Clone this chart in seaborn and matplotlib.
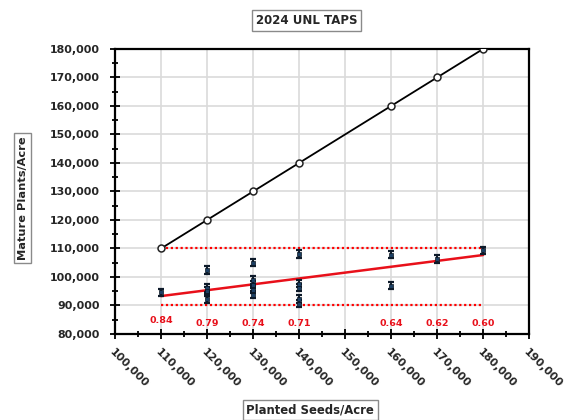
import numpy as np
import pandas as pd
import matplotlib
matplotlib.use("Agg")
import matplotlib.pyplot as plt
import seaborn as sns
from matplotlib.ticker import FuncFormatter, MultipleLocator

# ---------------- data ----------------
title = "2024 UNL TAPS"
x_label = "Planted Seeds/Acre"
y_label = "Mature Plants/Acre"

# 1:1 reference line (planted = mature)
ref_x = [110000, 120000, 130000, 140000, 160000, 170000, 180000]
ref_y = [110000, 120000, 130000, 140000, 160000, 170000, 180000]

# observed stands
obs_x = [110000,
         120000, 120000, 120000, 120000,
         130000, 130000, 130000, 130000, 130000,
         140000, 140000, 140000, 140000, 140000,
         160000, 160000,
         170000,
         180000]
obs_y = [94600,
         102400, 96100, 95200, 92200,
         105000, 98900, 97300, 95600, 93800,
         108100, 97700, 96300, 92300, 90600,
         107800, 97000,
         106300,
         109300]
obs_err = 1300

# trend line of observed stands
trend_x = [110000, 180000]
trend_y = [93300, 107700]

# dotted band limits
band_x = [110000, 180000]
band_low = [90000, 90000]
band_high = [110000, 110000]

# survival ratio labels
ratio_x = [110000, 120000, 130000, 140000, 160000, 170000, 180000]
ratio_y = [84800, 83700, 83700, 83700, 83700, 83700, 83700]
ratio_text = ["0.84", "0.79", "0.74", "0.71", "0.64", "0.62", "0.60"]

x_ticks = list(range(100000, 190001, 10000))
y_ticks = list(range(80000, 180001, 10000))

# ---------------- plot ----------------
sns.set_theme(style="white")
plt.rcParams["font.family"] = ["DejaVu Sans"]
plt.rcParams["font.weight"] = "bold"

fig = plt.figure(figsize=(5.68, 4.2), dpi=100)
ax = fig.add_axes([0.2025, 0.2048, 0.729, 0.6786])

ax.set_xlim(100000, 190000)
ax.set_ylim(80000, 180000)
ax.set_xticks(x_ticks)
ax.set_yticks(y_ticks)
ax.xaxis.set_minor_locator(MultipleLocator(5000))
ax.yaxis.set_minor_locator(MultipleLocator(5000))
ax.grid(True, which="major", color="#dadada", linewidth=1.2, zorder=0)
ax.set_axisbelow(True)

# 1:1 line
ref_df = pd.DataFrame({"x": ref_x, "y": ref_y})
sns.lineplot(data=ref_df, x="x", y="y", ax=ax, color="black", linewidth=1.3,
             marker="o", markersize=5, markerfacecolor="white",
             markeredgecolor="#222222", markeredgewidth=1.1, zorder=4)

# dotted band
ax.plot(band_x, band_low, color="red", linestyle=(0, (1, 1.2)), linewidth=1.6, zorder=3)
ax.plot(band_x, band_high, color="red", linestyle=(0, (1, 1.2)), linewidth=1.6, zorder=3)

# trend line
trend_df = pd.DataFrame({"x": trend_x, "y": trend_y})
sns.lineplot(data=trend_df, x="x", y="y", ax=ax, color="#e8101a", linewidth=1.8, zorder=3)

# observed points with error bars
obs_df = pd.DataFrame({"x": obs_x, "y": obs_y})
ax.errorbar(obs_df["x"], obs_df["y"], yerr=obs_err, fmt="none", ecolor="#0d1a2a",
            elinewidth=1.4, capsize=2.2, capthick=1.6, zorder=5)
sns.scatterplot(data=obs_df, x="x", y="y", ax=ax, color="#1c3f63", marker="s",
                s=7, edgecolor="#0a1520", linewidth=0.5, zorder=6)

# ratio labels
for xv, yv, t in zip(ratio_x, ratio_y, ratio_text):
    ax.text(xv, yv, t, color="#e8101a", fontsize=6.8, fontweight="bold",
            ha="center", va="center", zorder=7)

# axes styling
for sp in ax.spines.values():
    sp.set_visible(True)
    sp.set_color("black")
    sp.set_linewidth(1.6)

ax.tick_params(axis="both", which="both", direction="inout", color="black",
               width=1.3, bottom=True, left=True, top=False, right=False)
ax.tick_params(axis="both", which="major", length=6.5)
ax.tick_params(axis="both", which="minor", length=5)
ax.tick_params(axis="y", which="major", pad=7.5, labelsize=7.9)
ax.tick_params(axis="x", which="major", pad=6, labelsize=7.9)

fmt = FuncFormatter(lambda v, p: f"{int(v):,}")
ax.xaxis.set_major_formatter(fmt)
ax.yaxis.set_major_formatter(fmt)
for lab in ax.get_yticklabels():
    lab.set_fontweight("bold")
for lab in ax.get_xticklabels():
    lab.set_fontweight("bold")
    lab.set_rotation(-45)
    lab.set_ha("left")
    lab.set_va("top")
    lab.set_rotation_mode("anchor")

ax.set_xlabel("")
ax.set_ylabel("")

box = dict(boxstyle="square,pad=0.3", facecolor="white", edgecolor="#8a8a8a", linewidth=1.0)
fig.text(0.54, 1 - 20.5 / 420, title, ha="center", va="center", fontsize=8.5,
         fontweight="bold", bbox=box)
fig.text(0.546, 1 - 410 / 420, x_label, ha="center", va="center", fontsize=8.4,
         fontweight="bold", bbox=box)
fig.text(0.04, 1 - 198 / 420, y_label, ha="center", va="center", fontsize=8.2,
         fontweight="bold", rotation=90, bbox=box)

fig.savefig("out.png", dpi=100, facecolor="white")
